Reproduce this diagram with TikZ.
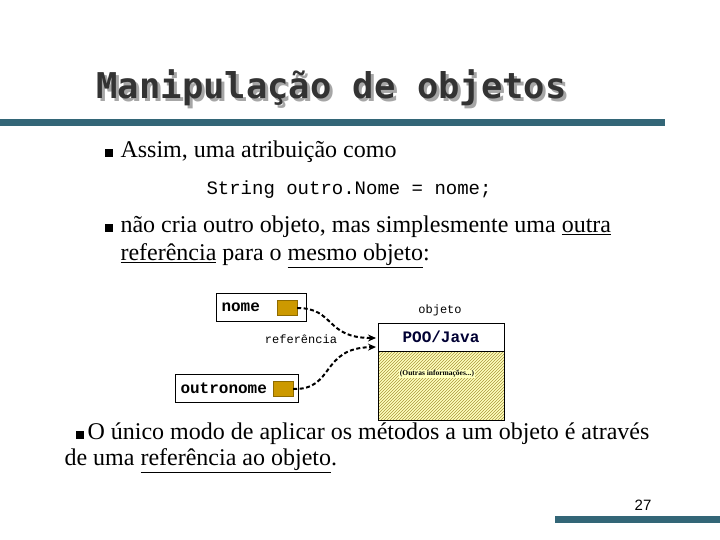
\documentclass[tikz,border=0pt]{standalone}
\usepackage{fontspec}
\setmainfont{Liberation Serif}
\setmonofont{Liberation Mono}
\newfontfamily\titlefont{DejaVu Sans Mono}
\newfontfamily\pgfont{Liberation Sans}
\usetikzlibrary{patterns,arrows.meta}
\definecolor{bar}{RGB}{51,102,119}
\definecolor{gold}{RGB}{204,153,0}
\definecolor{hatchy}{RGB}{255,255,190}
\definecolor{hatchl}{RGB}{170,150,60}
\begin{document}
\begin{tikzpicture}[x=1pt,y=-1pt,
  goldsq/.style={fill=gold,draw=gold!70!black,minimum width=20pt,minimum height=15pt,inner sep=0pt},
  conn/.style={-{Stealth[length=8pt,width=7pt]},dash pattern=on 4pt off 2.5pt,line width=2pt},
  bullet/.style={fill=black,minimum size=8pt,inner sep=0pt},
  body/.style={anchor=west,font=\fontsize{24}{28}\selectfont},
  dmono/.style={font=\ttfamily\bfseries\fontsize{16}{18}\selectfont}]
\useasboundingbox (0,0) rectangle (720,540);
% title
\node[anchor=west,text=black!35,font=\titlefont\bfseries\fontsize{35.5}{38}\selectfont] (titshadow) at (96,91) {Manipulação de objetos};
\node[anchor=west,text=black!80,font=\titlefont\bfseries\fontsize{35.5}{38}\selectfont] (title) at (93,88) {Manipulação de objetos};
\fill[bar] (0,119) rectangle (665,126);
\fill[bar] (555,516) rectangle (720,523);
\node[font=\pgfont\fontsize{15}{17}\selectfont] (pg) at (643,505) {27};
% text
\node[bullet] (b1) at (109,153) {};
\node[body] (t1) at (117,152) {Assim, uma atribuição como};
\node[anchor=west,font=\ttfamily\fontsize{19}{21}\selectfont] (code) at (203,190) {String outro.Nome = nome;};
\node[bullet] (b2) at (109,228) {};
\node[body] (t2) at (117,227) {não cria outro objeto, mas simplesmente uma \underline{outra}};
\node[body] (t3) at (117,256) {\underline{referência} para o \underline{mesmo objeto}:};
\node[bullet] (b3) at (80,435) {};
\node[body] (t4) at (84,434) {O único modo de aplicar os métodos a um objeto é através};
\node[body] (t5) at (61,461) {de uma \underline{referência ao objeto}.};
% diagram
\draw[thick] (216,293) rectangle (306,321);
\node[anchor=west,dmono] (nome) at (218,307) {nome};
\node[goldsq] (sq1) at (287,308) {};
\draw[thick] (175,374) rectangle (298,402);
\node[anchor=west,dmono] (outro) at (177,388) {outronome};
\node[goldsq] (sq2) at (283,389) {};
\fill[hatchy] (378,351) rectangle (504,420);
\fill[pattern=north east lines,pattern color=hatchl] (378,351) rectangle (504,420);
\draw[thick] (378,323) rectangle (504,420);
\draw[thick] (378,351) -- (504,351);
\node[dmono,text=black!80!blue] (poo) at (441,337) {POO/Java};
\node[font=\bfseries\fontsize{7.5}{9}\selectfont,fill=hatchy,inner sep=1pt] (outras) at (437,374) {(Outras informações...)};
\node[font=\ttfamily\fontsize{12}{14}\selectfont] (objeto) at (440,310) {objeto};
\node[font=\ttfamily\fontsize{12}{14}\selectfont] (ref) at (301,339) {referência};
\coordinate (in1) at (376,338);
\coordinate (in2) at (376,347);
\draw[conn] (sq1.east) .. controls (335,308) and (325,338) .. (in1);
\draw[conn] (sq2.east) .. controls (335,390) and (320,348) .. (in2);
\end{tikzpicture}
\end{document}
